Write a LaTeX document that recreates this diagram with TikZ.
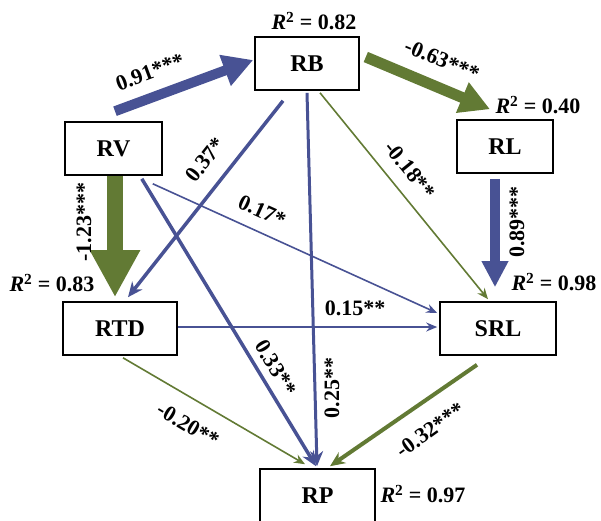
\documentclass[tikz,border=0pt]{standalone}
\usepackage{fontspec}
\setmainfont{Liberation Serif}
\usetikzlibrary{arrows.meta,calc}
\definecolor{pblue}{RGB}{72,82,148}
\definecolor{pgreen}{RGB}{98,122,52}
\begin{document}
\begin{tikzpicture}[x=1pt,y=-1pt,
  box/.style={draw=black,line width=1.6pt,fill=white,inner sep=0pt,minimum height=53pt,
    font=\fontsize{24}{27}\selectfont\bfseries},
  lab/.style={font=\fontsize{22}{25}\selectfont\bfseries,inner sep=1pt},
  thin/.style={line width=1.6pt,-{Stealth[width=9pt,length=11pt]}},
  mid/.style={line width=3.5pt,-{Stealth[width=13pt,length=15pt]}},
  thick/.style={line width=10pt,-{Triangle[width=31pt,length=30pt]}}]
\useasboundingbox (0,0) rectangle (601,520);
\node[box,minimum width=97pt] (rv) at (113.5,148.5) {RV};
\node[box,minimum width=104pt] (rb) at (307,63.5) {RB};
\node[box,minimum width=96pt] (rl) at (505,146.5) {RL};
\node[box,minimum width=114pt] (rtd) at (120,328.5) {RTD};
\node[box,minimum width=116pt] (srl) at (498,328.5) {SRL};
\node[box,minimum width=115pt] (rp) at (317.5,495.5) {RP};
% thin connectors
\draw[thin,pblue] ($(rv.south east)+(-10,8)$) -- ($(srl.west)+(-2,-15.5)$);
\draw[thin,pblue] ($(rtd.east)+(0,-1.5)$) -- ($(srl.west)+(-2,-1.5)$);
\draw[thin,pgreen] ($(rb.south)+(13,2)$) -- ($(srl.north)+(-10,-2)$);
\draw[thin,pgreen] ($(rtd.south)+(3,2)$) -- ($(rp.north)+(-12.5,-4)$);
% medium connectors
\draw[mid,pblue,line width=3pt] ($(rb.south)+(0,2)$) -- ($(rp.north)+(-0.5,-2)$);
\draw[mid,pblue] ($(rb.south)+(-24,10)$) -- ($(rtd.north)+(8,-4)$);
\draw[mid,pblue] ($(rv.south east)+(-21,3)$) -- ($(rp.north)+(-1.5,-2)$);
\draw[mid,pgreen,line width=4pt] ($(srl.south)+(-21,9)$) -- ($(rp.north)+(12.5,-2)$);
% thick connectors
\draw[thick,pblue] ($(rv.north)+(1.5,-10)$) -- ($(rb.west)+(-1,-3.5)$);
\draw[thick,pgreen,line width=11pt] ($(rb.east)+(6,-6.5)$) -- ($(rl.north)+(-15,-10)$);
\draw[pgreen,line width=16pt,-{Triangle[width=47pt,length=47pt]}] ($(rv.south)+(1.5,0)$) -- ($(rtd.north)+(-5,-4)$);
\draw[pblue,line width=10pt,-{Triangle[width=25pt,length=26pt]}] ($(rl.south)+(-10,5)$) -- ($(srl.north)+(-3,-14)$);
% labels
\node[lab] (r2rb) at (314,21) {\textit{R}\textsuperscript{2} = 0.82};
\node[lab] (r2rl) at (538,105) {\textit{R}\textsuperscript{2} = 0.40};
\node[lab] (r2rtd) at (52,283) {\textit{R}\textsuperscript{2} = 0.83};
\node[lab] (r2srl) at (554,282) {\textit{R}\textsuperscript{2} = 0.98};
\node[lab] (r2rp) at (423,494) {\textit{R}\textsuperscript{2} = 0.97};
\node[lab,rotate=20.5] (l1) at (150,72) {0.91***};
\node[lab,rotate=-23] (l2) at (442,60) {-0.63***};
\node[lab,rotate=90] (l3) at (84,222) {-1.23***};
\node[lab,rotate=52] (l4) at (205,160) {0.37*};
\node[lab,rotate=-24.4] (l5) at (262,211) {0.17*};
\node[lab,rotate=-51] (l6) at (410,170) {-0.18**};
\node[lab,rotate=90] (l7) at (517,222) {0.89***};
\node[lab] (l8) at (355,308) {0.15**};
\node[lab,rotate=-58.8] (l9) at (276,368) {0.33**};
\node[lab,rotate=90] (l10) at (332,388) {0.25**};
\node[lab,rotate=-30.7] (l11) at (188,425) {-0.20**};
\node[lab,rotate=35.7] (l12) at (430,430) {-0.32***};
\end{tikzpicture}
\end{document}
